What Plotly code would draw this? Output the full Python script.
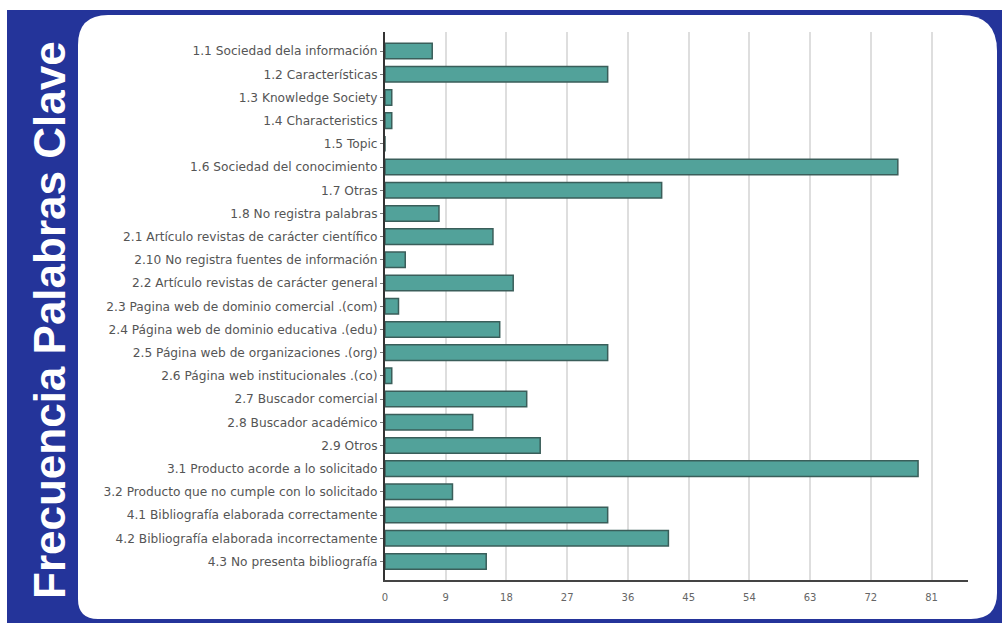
import plotly.graph_objects as go

# Keyword categories (top to bottom) and their frequencies
categories = [
    "1.1 Sociedad dela información",
    "1.2 Características",
    "1.3 Knowledge Society",
    "1.4 Characteristics",
    "1.5 Topic",
    "1.6 Sociedad del conocimiento",
    "1.7 Otras",
    "1.8 No registra palabras",
    "2.1 Artículo revistas de carácter científico",
    "2.10 No registra fuentes de información",
    "2.2 Artículo revistas de carácter general",
    "2.3 Pagina web de dominio comercial .(com)",
    "2.4 Página web de dominio educativa .(edu)",
    "2.5 Página web de organizaciones .(org)",
    "2.6 Página web institucionales .(co)",
    "2.7 Buscador comercial",
    "2.8 Buscador académico",
    "2.9 Otros",
    "3.1 Producto acorde a lo solicitado",
    "3.2 Producto que no cumple con lo solicitado",
    "4.1 Bibliografía elaborada correctamente",
    "4.2 Bibliografía elaborada incorrectamente",
    "4.3 No presenta bibliografía",
]
frequencies = [7, 33, 1, 1, 0, 76, 41, 8, 16, 3, 19, 2, 17, 33, 1, 21, 13, 23, 79, 10, 33, 42, 15]
x_ticks = [0, 9, 18, 27, 36, 45, 54, 63, 72, 81]
title_text = "Frecuencia Palabras Clave"

W, H = 1002, 623
ML, MR, MT, MB = 385, 34, 32, 43
PW, PH = W - ML - MR, H - MT - MB


def px(x):
    return (x - ML) / PW


def py(y):
    return 1 - (y - MT) / PH


def rounded_rect(x0, y0, x1, y1, r_tl, r_tr, r_br, r_bl):
    pts = []
    pts.append(f"M {px(x0 + r_tl)},{py(y0)}")
    pts.append(f"L {px(x1 - r_tr)},{py(y0)}")
    pts.append(f"Q {px(x1)},{py(y0)} {px(x1)},{py(y0 + r_tr)}")
    pts.append(f"L {px(x1)},{py(y1 - r_br)}")
    pts.append(f"Q {px(x1)},{py(y1)} {px(x1 - r_br)},{py(y1)}")
    pts.append(f"L {px(x0 + r_bl)},{py(y1)}")
    pts.append(f"Q {px(x0)},{py(y1)} {px(x0)},{py(y1 - r_bl)}")
    pts.append(f"L {px(x0)},{py(y0 + r_tl)}")
    pts.append(f"Q {px(x0)},{py(y0)} {px(x0 + r_tl)},{py(y0)}")
    pts.append("Z")
    return " ".join(pts)


fig = go.Figure(
    go.Bar(
        x=frequencies,
        y=categories,
        orientation="h",
        width=0.67,
        marker=dict(color="#52a29a", line=dict(color="#3a5e5a", width=1.5)),
        hoverinfo="x+y",
    )
)

shapes = [
    # blue frame
    dict(type="rect", xref="paper", yref="paper", x0=px(7), x1=px(W), y0=py(H), y1=py(10),
         fillcolor="#24349a", line=dict(width=0), layer="below"),
    # white rounded panel
    dict(type="path", xref="paper", yref="paper",
         path=rounded_rect(78, 15, 997, 619, 30, 36, 26, 20),
         fillcolor="white", line=dict(width=0), layer="below"),
]

fig.update_layout(
    width=W,
    height=H,
    margin=dict(l=ML, r=MR, t=MT, b=MB),
    paper_bgcolor="white",
    plot_bgcolor="rgba(0,0,0,0)",
    showlegend=False,
    shapes=shapes,
    annotations=[
        dict(
            text="<b>" + title_text + "</b>",
            xref="paper", yref="paper",
            x=px(49), y=py(320),
            textangle=-90,
            showarrow=False,
            font=dict(family="Liberation Sans, Arial, sans-serif", size=44, color="white"),
            xanchor="center", yanchor="middle",
        )
    ],
)

fig.update_xaxes(
    range=[0, 86.4],
    tickvals=x_ticks,
    ticktext=[str(v) for v in x_ticks],
    showgrid=True,
    gridcolor="#dedede",
    gridwidth=2,
    zeroline=False,
    showline=True,
    linecolor="#444444",
    linewidth=2,
    ticks="outside",
    ticklen=7,
    tickcolor="rgba(0,0,0,0)",
    tickfont=dict(family="DejaVu Sans, sans-serif", size=10, color="#666666"),
)

fig.update_yaxes(
    type="category",
    categoryorder="array",
    categoryarray=categories,
    range=[22.8, -0.82],
    showgrid=False,
    zeroline=False,
    showline=True,
    linecolor="#333333",
    linewidth=2,
    ticks="outside",
    ticklen=3,
    tickcolor="#777777",
    tickfont=dict(family="DejaVu Sans, sans-serif", size=12.2, color="#555555"),
)

fig.write_html("out.html")
